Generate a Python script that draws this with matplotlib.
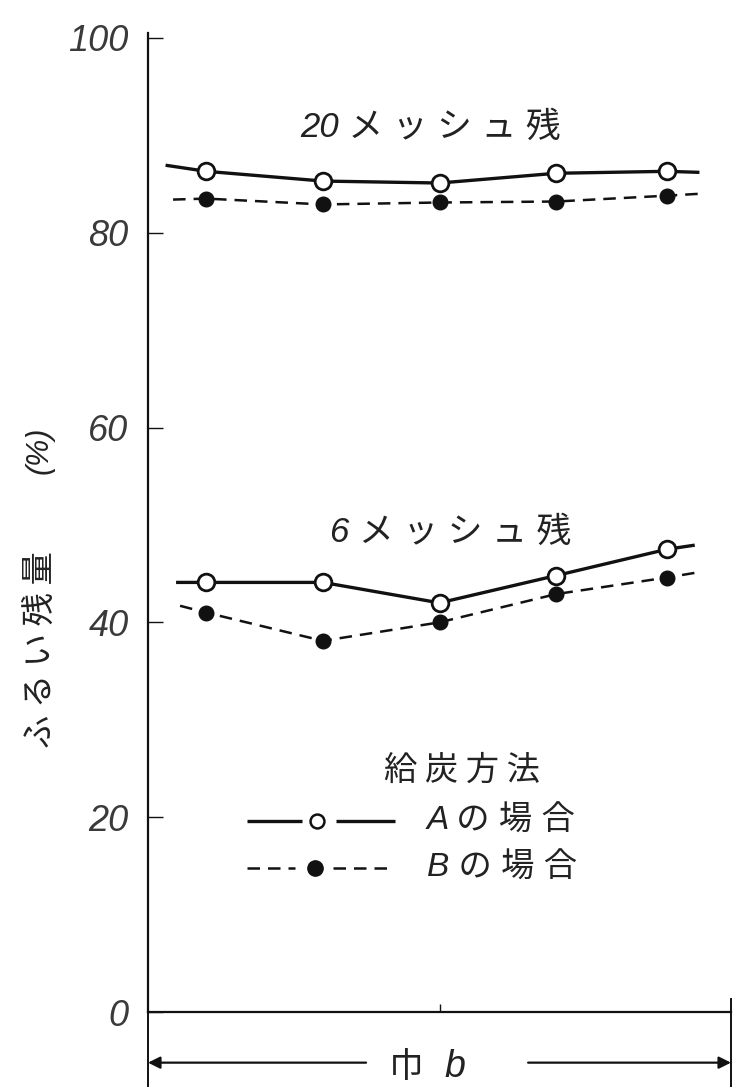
import matplotlib
matplotlib.use('Agg')
import matplotlib.pyplot as plt

# Sieve residue (%) at five positions across the width b
x_pos = [0.10, 0.30, 0.50, 0.70, 0.89]
a20 = [86.3, 85.3, 85.1, 86.1, 86.3]   # 20 mesh, method A
b20 = [83.5, 82.9, 83.1, 83.2, 83.8]   # 20 mesh, method B
a6 = [44.1, 44.1, 42.0, 44.8, 47.5]    # 6 mesh, method A
b6 = [41.0, 38.1, 40.0, 42.9, 44.6]    # 6 mesh, method B

# curves are drawn a little past the first / last point
a20_ends = [(0.033, 86.9), (0.943, 86.2)]
b20_ends = [(0.043, 83.4), (0.947, 84.0)]
a6_ends = [(0.051, 44.1), (0.935, 47.9)]
b6_ends = [(0.055, 41.7), (0.950, 45.2)]

y_ticks = [0, 20, 40, 60, 80, 100]
y_ticklabels = ['0', '20', '40', '60', '80', '100']

CJK = 'Noto Sans CJK JP'
LATIN = ['Liberation Sans Narrow', 'Liberation Sans', 'DejaVu Sans']
MIXED = LATIN + [CJK]
INK = '#111111'
DASH = (0, (5.0, 3.2))


def draw_curve(ax, vals, ends, filled):
    xs = [ends[0][0]] + x_pos + [ends[1][0]]
    ys = [ends[0][1]] + vals + [ends[1][1]]
    if filled:
        ax.plot(xs, ys, color=INK, lw=1.8, ls=DASH, clip_on=False, zorder=2)
        ax.plot(x_pos, vals, 'o', ms=10.5, mfc=INK, mec=INK, clip_on=False, zorder=3)
    else:
        ax.plot(xs, ys, color=INK, lw=2.4, clip_on=False, zorder=2)
        ax.plot(x_pos, vals, 'o', ms=12, mfc='white', mec=INK, mew=2.0, clip_on=False, zorder=3)


fig = plt.figure(figsize=(7.33, 10.87), dpi=100)
ax = fig.add_axes([148 / 733, 75 / 1087, 583 / 733, 979 / 1087])
ax.set_xlim(0, 1)
ax.set_ylim(0, 100.5)

for side in ('top', 'right'):
    ax.spines[side].set_visible(False)
ax.spines['left'].set_linewidth(1.6)
ax.spines['bottom'].set_linewidth(1.6)
ax.spines['left'].set_color(INK)
ax.spines['bottom'].set_color(INK)

ax.set_yticks(y_ticks)
ax.set_yticklabels(y_ticklabels, family=LATIN, style='italic', fontsize=26, color='#3a3a3a')
ax.tick_params(axis='y', direction='in', length=11, width=1.0, pad=14, color=INK)
ax.set_xticks([0.5])
ax.set_xticklabels([])
ax.tick_params(axis='x', direction='in', length=6, width=1.0, color=INK)

draw_curve(ax, a20, a20_ends, False)
draw_curve(ax, b20, b20_ends, True)
draw_curve(ax, a6, a6_ends, False)
draw_curve(ax, b6, b6_ends, True)

# curve labels
ax.text(0.261, 90.8, '20 メ ッ シ ュ 残', family=MIXED, style='italic', fontsize=25,
        ha='left', va='center', color='#222222')
ax.text(0.312, 49.2, '6 メ ッ シ ュ 残', family=MIXED, style='italic', fontsize=25,
        ha='left', va='center', color='#222222')

# hand-drawn legend
ax.text(0.539, 24.8, '給 炭 方 法', family=CJK, fontsize=24, ha='center', va='center', color='#222222')
ax.plot([0.170, 0.264], [19.6, 19.6], color=INK, lw=2.4, solid_capstyle='butt')
ax.plot([0.322, 0.424], [19.6, 19.6], color=INK, lw=2.4, solid_capstyle='butt')
ax.plot([0.290], [19.6], 'o', ms=10, mfc='white', mec=INK, mew=1.8)
ax.plot([0.170, 0.252], [14.8, 14.8], color=INK, lw=1.8, ls=DASH)
ax.plot([0.317, 0.420], [14.8, 14.8], color=INK, lw=1.8, ls=DASH)
ax.plot([0.286], [14.8], 'o', ms=11, mfc=INK, mec=INK)
ax.text(0.478, 19.6, 'A の 場 合', family=MIXED, style='italic', fontsize=24,
        ha='left', va='center', color='#222222')
ax.text(0.478, 14.8, 'B の 場 合', family=MIXED, style='italic', fontsize=24,
        ha='left', va='center', color='#222222')

# width dimension below the axis
ax.plot([0, 0], [0, -8], color=INK, lw=1.4, clip_on=False)
ax.plot([1, 1], [1.3, -8], color=INK, lw=1.4, clip_on=False)
ax.annotate('', xy=(0.0, -5.2), xytext=(0.374, -5.2), annotation_clip=False,
            arrowprops=dict(arrowstyle='-|>', color=INK, lw=1.6, mutation_scale=18,
                            shrinkA=0, shrinkB=0))
ax.annotate('', xy=(1.0, -5.2), xytext=(0.652, -5.2), annotation_clip=False,
            arrowprops=dict(arrowstyle='-|>', color=INK, lw=1.6, mutation_scale=18,
                            shrinkA=0, shrinkB=0))
ax.text(0.443, -7.45, '巾', family=CJK, fontsize=25, ha='center', va='bottom', color='#222222')
ax.text(0.527, -7.45, 'b', family=LATIN, style='italic', fontsize=27, ha='center', va='bottom',
        color='#222222')

# vertical y label
fig.text(40 / 733, 1 - 650 / 1087, 'ふ る い 残 量', family=CJK, fontsize=24, rotation=90,
         ha='center', va='center', color='#222222')
fig.text(40 / 733, 1 - 450 / 1087, '(%)', family=MIXED, style='italic', fontsize=22,
         rotation=90, ha='center', va='center', color='#222222')

fig.savefig('out.png', dpi=100, facecolor='white')
